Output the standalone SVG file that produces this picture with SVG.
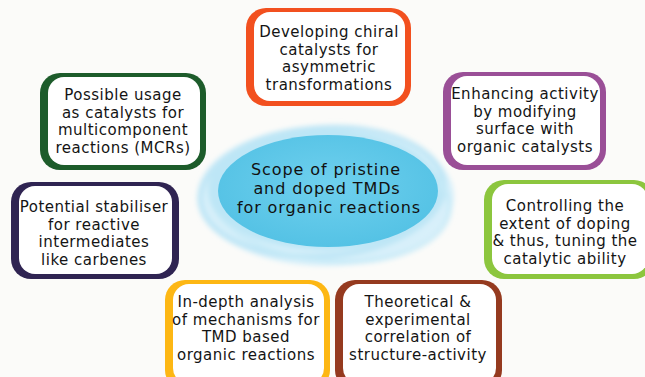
<svg xmlns="http://www.w3.org/2000/svg" width="645" height="377" viewBox="0 0 645 377">
  <defs>
    <style>
      .lbl { font-family: "DejaVu Sans", "Liberation Sans", sans-serif; font-size: 15px; letter-spacing: 0.5px; fill: #141414; text-anchor: middle; }
      .hub { font-family: "DejaVu Sans", "Liberation Sans", sans-serif; font-size: 16px; letter-spacing: 0.9px; fill: #111; text-anchor: middle; }
      .inner { fill: #ffffff; }
    </style>
    <radialGradient id="hubFill" cx="0.5" cy="0.45" r="0.6">
      <stop offset="0" stop-color="#6fd0ee"/>
      <stop offset="1" stop-color="#52c1e4"/>
    </radialGradient>
    <filter id="soft" x="-20%" y="-20%" width="140%" height="140%">
      <feGaussianBlur stdDeviation="2.5"/>
    </filter>
  </defs>

  <rect width="645" height="377" fill="#fbfbf9"/>

  <!-- central hub: brushed halo and filled oval -->
  <g id="hub">
    <g filter="url(#soft)">
      <ellipse cx="326" cy="196" rx="128" ry="70" fill="#d8f0fa"/>
      <ellipse cx="322" cy="192" rx="122" ry="64" fill="none" stroke="#b9e4f5" stroke-width="6" opacity="0.8" transform="rotate(-4 322 192)"/>
      <ellipse cx="330" cy="199" rx="120" ry="62" fill="none" stroke="#c5eaf7" stroke-width="5" opacity="0.8" transform="rotate(5 330 199)"/>
      <ellipse cx="324" cy="190" rx="116" ry="60" fill="#bde6f6"/>
    </g>
    <ellipse cx="328" cy="191" rx="110" ry="56" fill="url(#hubFill)"/>
    <text class="hub" x="326" y="175">Scope of pristine</text>
    <text class="hub" x="327" y="194">and doped TMDs</text>
    <text class="hub" x="329" y="213">for organic reactions</text>
  </g>

  <!-- idea boxes: coloured outer frame, white inner panel -->
  <g id="chiral">
    <rect x="246" y="8" width="165" height="98" rx="20" fill="#f2501f"/>
    <rect class="inner" x="254" y="12" width="151" height="89" rx="16"/>
    <text class="lbl" x="329" y="37">Developing chiral</text>
    <text class="lbl" x="329" y="54.6">catalysts for</text>
    <text class="lbl" x="329" y="72.2">asymmetric</text>
    <text class="lbl" x="329" y="89.8">transformations</text>
  </g>

  <g id="mcr">
    <rect x="40" y="73" width="166" height="97" rx="20" fill="#1d5c2b"/>
    <rect class="inner" x="48" y="77" width="152" height="88" rx="16"/>
    <text class="lbl" x="123" y="100">Possible usage</text>
    <text class="lbl" x="123" y="117.6">as catalysts for</text>
    <text class="lbl" x="123" y="135.2">multicomponent</text>
    <text class="lbl" x="123" y="152.8">reactions (MCRs)</text>
  </g>

  <g id="surface">
    <rect x="443" y="72" width="163" height="98" rx="20" fill="#9a4f97"/>
    <rect class="inner" x="451" y="76" width="149" height="89" rx="16"/>
    <text class="lbl" x="525" y="99">Enhancing activity</text>
    <text class="lbl" x="525" y="116.6">by modifying</text>
    <text class="lbl" x="525" y="134.2">surface with</text>
    <text class="lbl" x="525" y="151.8">organic catalysts</text>
  </g>

  <g id="stabiliser">
    <rect x="11" y="182" width="168" height="97" rx="20" fill="#2f2452"/>
    <rect class="inner" x="19" y="186" width="153" height="88" rx="16"/>
    <text class="lbl" x="94" y="212">Potential stabiliser</text>
    <text class="lbl" x="94" y="229.6">for reactive</text>
    <text class="lbl" x="94" y="247.2">intermediates</text>
    <text class="lbl" x="94" y="264.8">like carbenes</text>
  </g>

  <g id="doping">
    <rect x="484" y="180" width="170" height="99" rx="20" fill="#8cc63e"/>
    <rect class="inner" x="492" y="184" width="156" height="90" rx="16"/>
    <text class="lbl" x="565" y="211">Controlling the</text>
    <text class="lbl" x="565" y="228.6">extent of doping</text>
    <text class="lbl" x="565" y="246.2">&amp; thus, tuning the</text>
    <text class="lbl" x="565" y="263.8">catalytic ability</text>
  </g>

  <g id="mechanism">
    <rect x="165" y="280" width="165" height="110" rx="20" fill="#fdb714"/>
    <rect class="inner" x="173" y="284" width="151" height="100" rx="16"/>
    <text class="lbl" x="246" y="307">In-depth analysis</text>
    <text class="lbl" x="246" y="324.6">of mechanisms for</text>
    <text class="lbl" x="246" y="342.2">TMD based</text>
    <text class="lbl" x="246" y="359.8">organic reactions</text>
  </g>

  <g id="correlation">
    <rect x="335" y="280" width="167" height="110" rx="20" fill="#953a1f"/>
    <rect class="inner" x="343" y="284" width="153" height="100" rx="16"/>
    <text class="lbl" x="418" y="307">Theoretical &amp;</text>
    <text class="lbl" x="418" y="324.6">experimental</text>
    <text class="lbl" x="418" y="342.2">correlation of</text>
    <text class="lbl" x="418" y="359.8">structure-activity</text>
  </g>
</svg>
